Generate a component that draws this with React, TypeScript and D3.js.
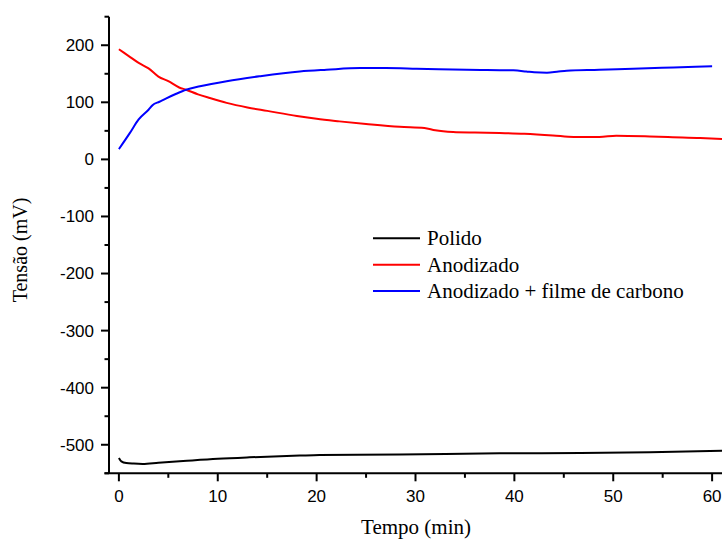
import React from "react";
import * as d3 from "d3";

const W = 722;
const H = 539;

// Series data (time in min, potential in mV)
const polidoT = [0, 0.25, 0.75, 1.5, 2.4, 4, 6.5, 10, 13.2, 18.3, 20.3, 28.4, 38.5, 46.7, 53.7, 61];
const polidoV = [-523, -529, -532, -533, -533.5, -531.5, -528.5, -524.5, -522, -519, -518, -517, -515, -514.5, -513, -510.5];

const anodT = [0, 1, 2, 3, 4, 5, 6.1, 6.8, 8, 9.2, 10.9, 13, 15, 18, 20, 22.3, 25, 28.4, 30.9, 32, 33.8, 36, 38.5, 41, 43.9, 46, 48.6, 50.3, 53.7, 56, 58.8, 61];
const anodV = [193, 181, 169, 159.5, 145, 137, 126, 122, 114, 107.5, 99, 91, 85, 76, 71, 66.6, 62, 57, 55, 51, 48, 47, 46.3, 45, 42, 39.2, 39.2, 41.5, 40.3, 39, 37.5, 35.5];

const carbT = [0, 1.1, 2, 3, 3.4, 4.1, 4.8, 5.8, 6.8, 8.2, 10.9, 14.2, 18.3, 21, 24.4, 27, 30.1, 35.2, 39.9, 41.2, 42, 43.3, 44.3, 45.3, 48.6, 52, 56.1, 60];
const carbV = [18, 46, 70, 87, 95, 101, 107, 115, 122, 128, 137, 145.5, 154, 157, 160, 160, 159, 157, 156, 154, 152.5, 152, 153.5, 155.5, 157, 159, 161, 163];

const seriesNames = ["Polido", "Anodizado", "Anodizado + filme de carbono"];
const seriesColors = ["#000000", "#ff0000", "#0000ff"];

const xMajorTicks = [0, 10, 20, 30, 40, 50, 60];
const xMinorTicks = [5, 15, 25, 35, 45, 55];
const yMajorTicks = [-500, -400, -300, -200, -100, 0, 100, 200];
const yMinorTicks = [-550, -450, -350, -250, -150, -50, 50, 150, 250];

const xTitle = "Tempo (min)";
const yTitle = "Tensão (mV)";

export default function App() {
  const x = d3.scaleLinear().domain([-1, 61]).range([109, 722]);
  const y = d3.scaleLinear().domain([-550, 250]).range([473.3, 16.7]);

  const series = [
    { t: polidoT, v: polidoV },
    { t: anodT, v: anodV },
    { t: carbT, v: carbV },
  ];

  const line = d3
    .line<[number, number]>()
    .x((d) => x(d[0]))
    .y((d) => y(d[1]))
    .curve(d3.curveMonotoneX);

  const x0 = x(-1);
  const yBottom = y(-550);
  const yTop = y(250);
  const sans = "'Liberation Sans', Arial, sans-serif";
  const serif = "'Liberation Serif', 'Times New Roman', serif";

  const legX = 373;
  const legY = 238.3;
  const legDy = 26.4;

  return (
    <svg
      width={W}
      height={H}
      style={{ position: "absolute", left: 0, top: 0, background: "#fff" }}
    >
      <rect x={0} y={0} width={W} height={H} fill="#fff" />
      <defs>
        <clipPath id="plotclip">
          <rect x={x0} y={yTop - 5} width={W - x0} height={yBottom - yTop + 5} />
        </clipPath>
      </defs>

      {/* data lines */}
      <g clipPath="url(#plotclip)">
        {series.map((s, i) => (
          <path
            key={i}
            d={line(s.t.map((t, j) => [t, s.v[j]] as [number, number])) || ""}
            fill="none"
            stroke={seriesColors[i]}
            strokeWidth={2}
            strokeLinejoin="round"
          />
        ))}
      </g>

      {/* Y axis */}
      <line x1={x0} x2={x0} y1={yTop} y2={yBottom} stroke="#000" strokeWidth={2} />
      {yMajorTicks.map((v) => (
        <g key={"ym" + v}>
          <line x1={x0 - 8} x2={x0} y1={y(v)} y2={y(v)} stroke="#000" strokeWidth={2} />
          <text
            x={x0 - 15}
            y={y(v)}
            dy="0.35em"
            textAnchor="end"
            fontFamily={sans}
            fontSize={17}
            fill="#000"
          >
            {v}
          </text>
        </g>
      ))}
      {yMinorTicks.map((v) => (
        <line key={"yn" + v} x1={x0 - 4.5} x2={x0} y1={y(v)} y2={y(v)} stroke="#000" strokeWidth={2} />
      ))}

      {/* X axis */}
      <line x1={x0 - 4.5} x2={W} y1={yBottom} y2={yBottom} stroke="#000" strokeWidth={2} />
      {xMajorTicks.map((t) => (
        <g key={"xm" + t}>
          <line x1={x(t)} x2={x(t)} y1={yBottom} y2={yBottom + 8} stroke="#000" strokeWidth={2} />
          <text
            x={x(t)}
            y={yBottom + 29}
            textAnchor="middle"
            fontFamily={sans}
            fontSize={17}
            fill="#000"
          >
            {t}
          </text>
        </g>
      ))}
      {xMinorTicks.map((t) => (
        <line key={"xn" + t} x1={x(t)} x2={x(t)} y1={yBottom} y2={yBottom + 4.5} stroke="#000" strokeWidth={2} />
      ))}

      {/* Titles */}
      <text x={416} y={534} textAnchor="middle" fontFamily={serif} fontSize={21} fill="#000">
        {xTitle}
      </text>
      <text
        transform={`translate(27, ${250}) rotate(-90)`}
        textAnchor="middle"
        fontFamily={serif}
        fontSize={20}
        fill="#000"
      >
        {yTitle}
      </text>

      {/* Legend */}
      {seriesNames.map((name, i) => (
        <g key={name}>
          <line
            x1={legX}
            x2={legX + 47}
            y1={legY + i * legDy}
            y2={legY + i * legDy}
            stroke={seriesColors[i]}
            strokeWidth={2}
          />
          <text
            x={legX + 54}
            y={legY + i * legDy + 7}
            fontFamily={serif}
            fontSize={21}
            fill="#000"
          >
            {name}
          </text>
        </g>
      ))}
    </svg>
  );
}
